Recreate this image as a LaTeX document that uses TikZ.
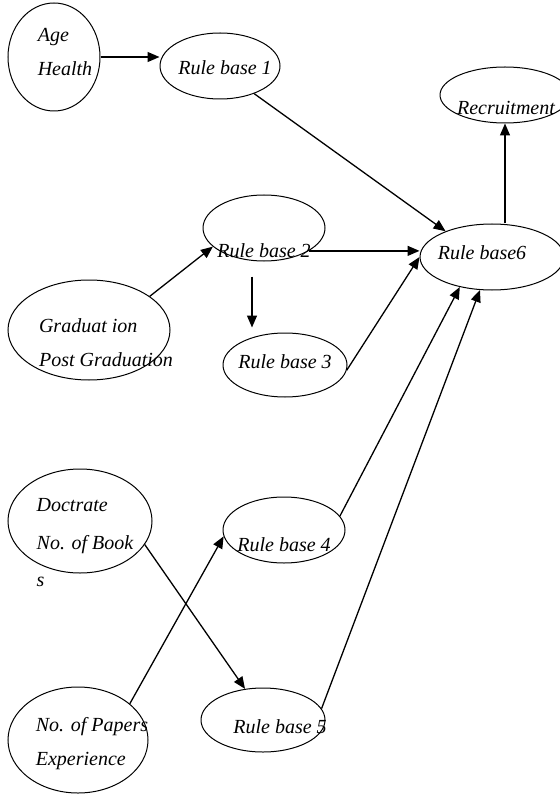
\documentclass[tikz,border=0pt]{standalone}
\usepackage{fontspec}
\setmainfont{Liberation Serif}
\usetikzlibrary{shapes.geometric, arrows.meta}

\begin{document}
\begin{tikzpicture}[
        x=1pt, y=-1pt,
        every node/.style={font=\fontsize{20}{34}\selectfont\itshape},
        bub/.style={draw, ellipse, line width=1pt, inner sep=0pt},
        txt/.style={align=left, inner sep=0pt},
        arr/.style={-{Triangle[length=12pt, width=10pt]}, line width=1.3pt}
    ]
        \useasboundingbox (0,0) rectangle (559,794);

        \node[bub, minimum width=92pt, minimum height=108pt, label={[txt, xshift=11pt, yshift=5pt]center:{Age\\Health}}] (age) at (54,57) {};
        \node[bub, minimum width=120pt, minimum height=66pt, label={[txt, xshift=5pt, yshift=-2pt]center:{Rule base 1}}] (rb1) at (220,66) {};
        \node[bub, minimum width=130pt, minimum height=56pt, label={[txt, xshift=1pt, yshift=-13pt]center:{Recruitment}}] (recruit) at (505,95) {};
        \node[bub, minimum width=144pt, minimum height=66pt, label={[txt, xshift=-10pt, yshift=4pt]center:{Rule base6}}] (rb6) at (492,257) {};
        \node[bub, minimum width=122pt, minimum height=66pt, label={[txt, yshift=-23pt]center:{Rule base 2}}] (rb2) at (264,228) {};
        \node[bub, minimum width=162pt, minimum height=100pt, label={[txt, xshift=17pt, yshift=-13pt]center:{Graduat ion\\Post Graduation}}] (grad) at (89,330) {};
        \node[bub, minimum width=124pt, minimum height=64pt, label={[txt, yshift=3pt]center:{Rule base 3}}] (rb3) at (285,365) {};
        \node[bub, minimum width=144pt, minimum height=104pt, label={[txt, xshift=5pt, yshift=-22pt]center:{Doctrate\\[4pt]No. of Book\\[3pt]s}}] (doct) at (80,521) {};
        \node[bub, minimum width=122pt, minimum height=66pt, label={[txt, yshift=-15pt]center:{Rule base 4}}] (rb4) at (284,530) {};
        \node[bub, minimum width=124pt, minimum height=64pt, label={[txt, xshift=17pt, yshift=-7pt]center:{Rule base 5}}] (rb5) at (263,720) {};
        \node[bub, minimum width=140pt, minimum height=106pt, label={[txt, xshift=14pt, yshift=-4pt]center:{No. of Papers\\Experience}}] (papers) at (78,740) {};

        \draw[arr] (age.east) -- (age.east -| rb1.west);
        \draw[arr] (rb1.-39) -- (rb6.151);
        \draw[arr] (rb6.north -| recruit.south) -- (recruit.south);
        \draw[arr] (grad.29) -- (rb2.200);
        \draw[arr] (rb2.-27) -- (rb2.-27 -| rb6.west);
        \draw[arr, shorten <=15pt, shorten >=5pt] ([xshift=-12pt]rb2.south) -- ([xshift=-12pt]rb2.south |- rb3.north);
        \draw[arr] (rb3.-5) -- (rb6.west);
        \draw[arr] (doct.-20) -- (rb5.120);
        \draw[arr] (papers.35) -- (rb4.186);
        \draw[arr] (rb4.14) -- (rb6.223);
        \draw[arr] (rb5.11) -- (rb6.250);
    \end{tikzpicture}
\end{document}
